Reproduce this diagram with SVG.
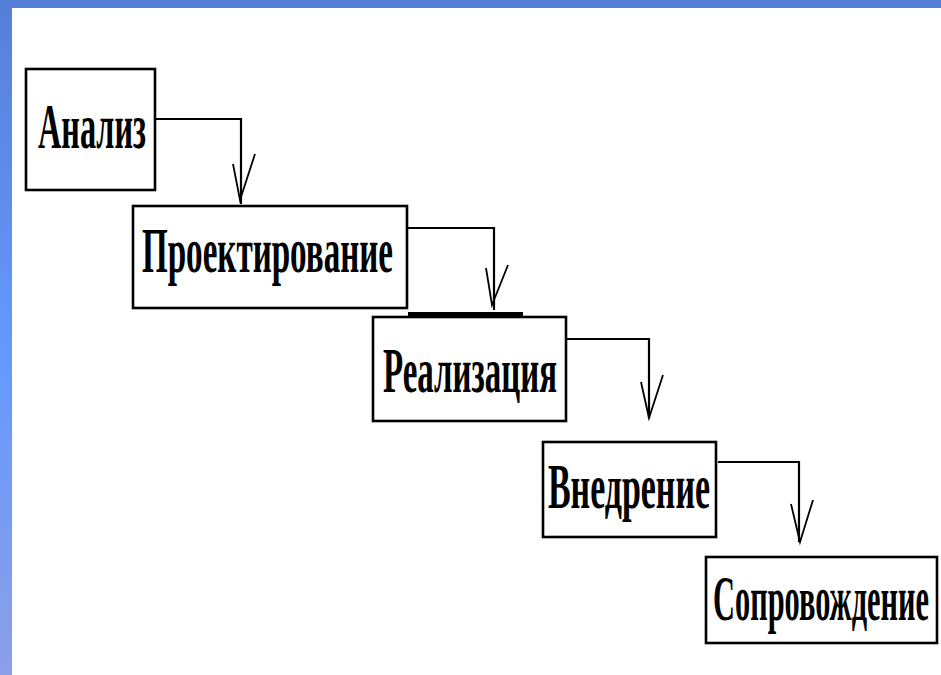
<svg xmlns="http://www.w3.org/2000/svg" width="941" height="675" viewBox="0 0 941 675">
  <defs>
    <linearGradient id="side" x1="0" y1="0" x2="0" y2="1">
      <stop offset="0" stop-color="#5580d8"/>
      <stop offset="0.55" stop-color="#6699ff"/>
      <stop offset="1" stop-color="#8c9fe6"/>
    </linearGradient>
  </defs>
  <style>
    .box { fill: #ffffff; stroke: #000000; stroke-width: 2.6; }
    .lbl { font-family: "Liberation Serif", "Times New Roman", serif; font-weight: bold; font-size: 64px; fill: #000000; }
    .con { fill: none; stroke: #000000; stroke-width: 2.2; }
    .arr { fill: none; stroke: #000000; stroke-width: 1.8; }
  </style>
  <rect x="0" y="0" width="941" height="675" fill="#ffffff"/>
  <rect x="0" y="0" width="941" height="8" fill="#5580d8"/>
  <rect x="0" y="0" width="12" height="675" fill="url(#side)"/>

  <g id="connectors">
    <polyline class="con" points="156,119 241,119 241,204"/>
    <polyline class="arr" points="233,164 240,200 255,154"/>
    <polyline class="con" points="408,228 494,228 494,310"/>
    <polyline class="arr" points="486,268 492,305 508,265"/>
    <line x1="408" y1="314" x2="523" y2="314" stroke="#000" stroke-width="4"/>
    <polyline class="con" points="567,339 649,339 649,418"/>
    <polyline class="arr" points="641,382 649,418 663,375"/>
    <polyline class="con" points="718,462 799,462 799,542"/>
    <polyline class="arr" points="791,504 800,542 813,500"/>
  </g>

  <g id="node-analiz">
    <rect class="box" x="26" y="69" width="129" height="121"/>
    <text class="lbl" transform="translate(38,148) scale(0.5,1)" x="0" y="0" textLength="216" lengthAdjust="spacingAndGlyphs">Анализ</text>
  </g>
  <g id="node-proektirovanie">
    <rect class="box" x="133" y="206" width="274" height="102"/>
    <text class="lbl" transform="translate(142,272) scale(0.5,1)" x="0" y="0" textLength="502" lengthAdjust="spacingAndGlyphs">Проектирование</text>
  </g>
  <g id="node-realizatsiya">
    <rect class="box" x="373" y="317" width="193" height="104"/>
    <text class="lbl" transform="translate(383,392) scale(0.5,1)" x="0" y="0" textLength="348" lengthAdjust="spacingAndGlyphs">Реализация</text>
  </g>
  <g id="node-vnedrenie">
    <rect class="box" x="543" y="442" width="173" height="95"/>
    <text class="lbl" transform="translate(548,508) scale(0.5,1)" x="0" y="0" textLength="324" lengthAdjust="spacingAndGlyphs">Внедрение</text>
  </g>
  <g id="node-soprovozhdenie">
    <rect class="box" x="706" y="557" width="231" height="86"/>
    <text class="lbl" transform="translate(713,620) scale(0.5,1)" x="0" y="0" textLength="432" lengthAdjust="spacingAndGlyphs">Сопровождение</text>
  </g>
</svg>
